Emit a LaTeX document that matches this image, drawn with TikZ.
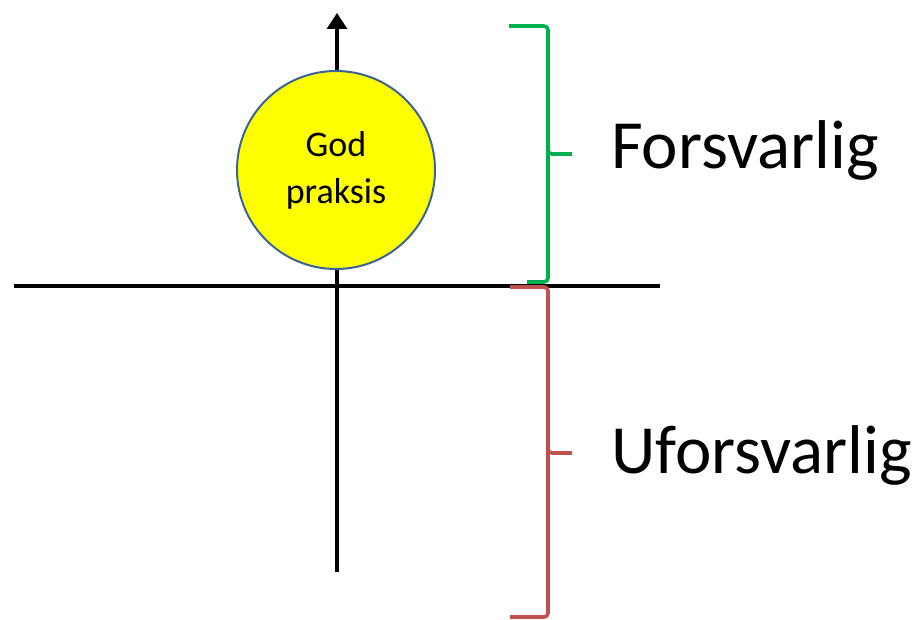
\documentclass[tikz,border=0pt]{standalone}
\usepackage{fontspec}
\setmainfont{Carlito}
\usetikzlibrary{arrows.meta}
\definecolor{circfill}{RGB}{255,255,0}
\definecolor{circedge}{RGB}{60,100,150}
\definecolor{bracegreen}{RGB}{0,176,80}
\definecolor{bracered}{RGB}{192,80,77}
\tikzset{
  axis/.style={line width=3.2pt, black},
  bracepath/.style={line width=3.6pt, rounded corners=4pt},
  bigtext/.style={font=\fontsize{69}{72}\selectfont, anchor=base west, inner sep=0pt},
  ball/.style={circle, fill=circfill, draw=circedge, line width=2pt, minimum size=198pt, inner sep=0pt, align=center, font=\fontsize{36}{47}\selectfont},
}
\begin{document}
\begin{tikzpicture}[x=1pt,y=-1pt]
\useasboundingbox (0,0) rectangle (920,620);
\coordinate (hl) at (14,286);
\coordinate (hr) at (660,286);
\coordinate (vb) at (337,572);
\coordinate (vt) at (337,13);
\draw[axis] (hl) -- (hr);
\draw[axis, -{Triangle[width=20pt,length=16pt]}] (vb) -- (vt);
\node[ball] (gp) at (336,170) {God\\praksis};
% green brace
\coordinate (gt) at (509,26);
\coordinate (gm) at (572,154);
\coordinate (gb) at (527,282);
\draw[bracepath, bracegreen] (gt) -- (548,26) -- (548,154) -- (gm)
  (548,150) -- (548,282) -- (gb);
% red brace
\coordinate (rt) at (510,287);
\coordinate (rm) at (572,453);
\coordinate (rb) at (510,617);
\draw[bracepath, bracered] (rt) -- (548,287) -- (548,453) -- (rm)
  (548,449) -- (548,617) -- (rb);
\node[bigtext] (fors) at (611,169) {Forsvarlig};
\node[bigtext] (ufors) at (611,473) {Uforsvarlig};
\end{tikzpicture}
\end{document}
